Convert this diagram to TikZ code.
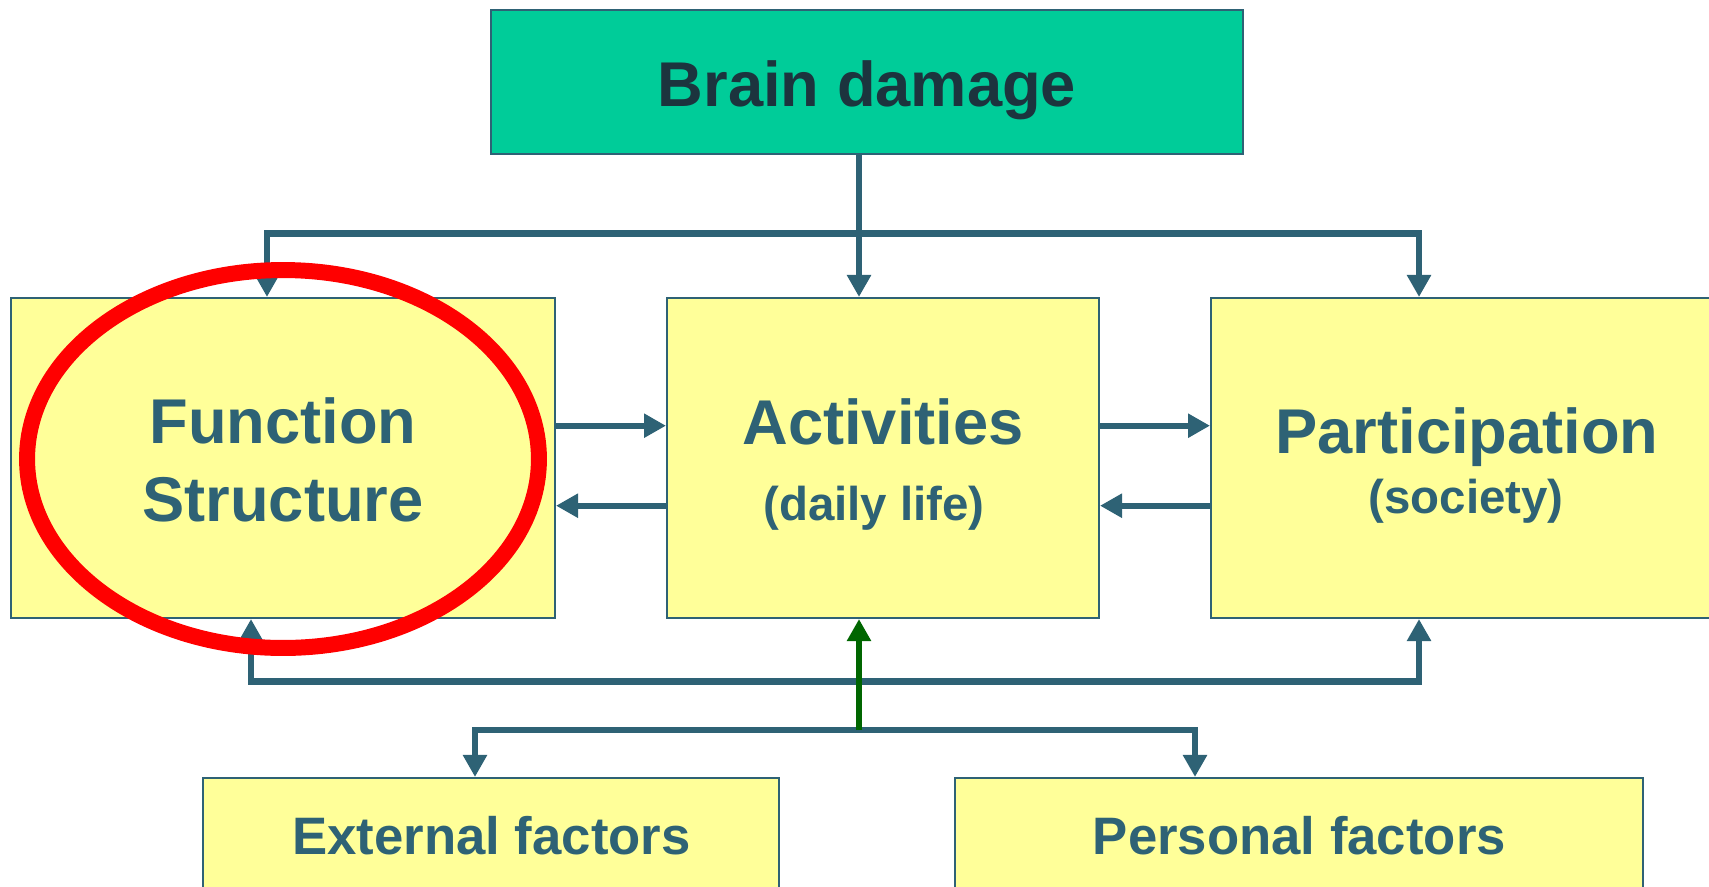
\documentclass[tikz,border=0pt]{standalone}
\usepackage{fontspec}
\setmainfont{Liberation Sans}
\usepackage{tikz}
\usetikzlibrary{arrows.meta}
\usepackage{xcolor}
\definecolor{icfteal}{RGB}{46,98,117}
\definecolor{icfdark}{RGB}{28,52,62}
\definecolor{icfyellow}{RGB}{255,255,153}
\definecolor{icfgreen}{RGB}{0,204,153}
\definecolor{icfleaf}{RGB}{0,102,0}
\definecolor{icfred}{RGB}{255,0,0}
\newcommand{\icfbig}{\fontsize{36}{43}\selectfont\bfseries}
\newcommand{\icfmid}{\fontsize{30}{36}\selectfont\bfseries}
\newcommand{\icfsmall}{\fontsize{27}{32}\selectfont\bfseries}
\tikzstyle{box} = [draw=icfteal, line width=1.2pt, fill=icfyellow, inner sep=0pt]
\tikzstyle{lbl} = [anchor=base, inner sep=0pt, text=icfteal]
\tikzstyle{arrow} = [line width=3.6pt, color=icfteal, -{Triangle[length=0.44cm,width=0.46cm]}]
\tikzstyle{twoway} = [line width=3.8pt, color=icfteal, line join=miter, {Triangle[length=0.44cm,width=0.46cm]}-{Triangle[length=0.44cm,width=0.46cm]}]

\begin{document}
\begin{tikzpicture}[x=0.02cm, y=-0.02cm]
\clip (0,0) rectangle (1709,886);

% Boxes
\node[box, fill=icfgreen, minimum width=15.04cm, minimum height=2.88cm] (brain) at (867,82) {};
\node[box, minimum width=10.88cm, minimum height=6.4cm] (fun) at (283,458) {};
\node[box, minimum width=8.64cm, minimum height=6.4cm] (act) at (883,458) {};
\node[box, minimum width=10.24cm, minimum height=6.4cm] (par) at (1467,458) {};
\node[box, minimum width=11.52cm, minimum height=3.44cm] (ext) at (491,864) {};
\node[box, minimum width=13.76cm, minimum height=3.44cm] (pers) at (1299,864) {};

% Labels
\node[lbl, text=icfdark] (braintxt) at (867,106.7) {\icfbig Brain damage};
\node[lbl] (funtxt) at (283,443.3) {\icfbig Function};
\node[lbl] (structxt) at (283,521) {\icfbig Structure};
\node[lbl] (acttxt) at (883,444) {\icfbig Activities};
\node[lbl] (dailytxt) at (874,520.7) {\icfsmall (daily life)};
\node[lbl] (partxt) at (1467,453.3) {\icfbig Participation};
\node[lbl] (soctxt) at (1466,513) {\icfsmall (society)};
\node[lbl] (exttxt) at (491.5,854.3) {\icfmid External factors};
\node[lbl] (perstxt) at (1299.4,854) {\icfmid Personal factors};

% Junction points
\coordinate (spine) at (859,233.7);
\coordinate (topL) at (267,233.7);
\coordinate (topR) at (1419,233.7);
\coordinate (hi) at (0,425.7);
\coordinate (lo) at (0,505.7);
\coordinate (botL) at (251,681.7);
\coordinate (botR) at (1419,681.7);
\coordinate (envL) at (475,730);
\coordinate (envM) at (859,730);
\coordinate (envR) at (1195,730);

% Connectors
\draw[arrow] (brain.south -| spine) -- (act.north -| spine);
\draw[twoway] (fun.north -| topL) -- (topL) -- (topR) -- (par.north -| topR);
\draw[arrow] (fun.east |- hi) -- (act.west |- hi);
\draw[arrow] (act.west |- lo) -- (fun.east |- lo);
\draw[arrow] (act.east |- hi) -- (par.west |- hi);
\draw[arrow] (par.west |- lo) -- (act.east |- lo);
\draw[twoway] (fun.south -| botL) -- (botL) -- (botR) -- (par.south -| botR);
\draw[twoway] (ext.north -| envL) -- (envL) -- (envR) -- (pers.north -| envR);
\draw[arrow, color=icfleaf] (envM) -- (act.south -| envM);

% Highlight
\draw[icfred, line width=9.1pt] (283,459) ellipse [x radius=5.12cm, y radius=3.78cm];
\end{tikzpicture}
\end{document}
